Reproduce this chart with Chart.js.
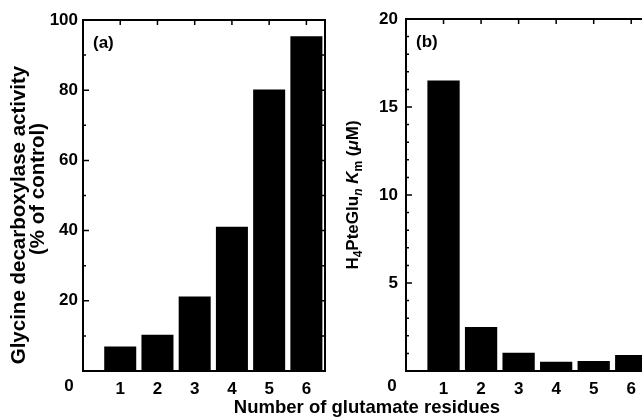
<!DOCTYPE html>
<html>
<head>
<meta charset="utf-8">
<script src="https://cdn.jsdelivr.net/npm/chart.js@4"></script>
<style>
  html, body { margin: 0; padding: 0; background: #fff; }
  #wrap { position: relative; width: 642px; height: 417px; overflow: hidden; }
  #wrap canvas { position: absolute; left: 0; top: 0; }
</style>
</head>
<body>
<div id="wrap">
  <canvas id="chartA" width="642" height="417"></canvas>
  <canvas id="chartB" width="660" height="417"></canvas>
</div>
<script>
// data
const residues = [1, 2, 3, 4, 5, 6];
const activity = [7.0, 10.3, 21.2, 41.1, 80.2, 95.4];   // % of control
const kmValues = [16.5, 2.5, 1.04, 0.53, 0.57, 0.91];   // µM
const activityLabels = [20, 40, 60, 80, 100];
const kmLabels = [5, 10, 15, 20];
const activityTitle = ['Glycine decarboxylase activity', '(% of control)'];

const FONT = '"Liberation Sans", Arial, sans-serif';

// box, inward ticks, corner "0" and panel letter
const framePlugin = {
  id: 'frame',
  afterDatasetsDraw(chart, args, opts) {
    const { ctx, chartArea: a, scales: { x, y } } = chart;
    ctx.save();
    ctx.strokeStyle = '#000';
    ctx.lineWidth = 2;
    ctx.strokeRect(a.left, a.top, a.right - a.left, a.bottom - a.top);
    ctx.lineWidth = 1.5;
    ctx.beginPath();
    y.ticks.forEach(t => {
      const py = y.getPixelForValue(t.value);
      const len = t.value % opts.major === 0 ? 6 : 3;
      ctx.moveTo(a.left, py); ctx.lineTo(a.left + len, py);
      ctx.moveTo(a.right, py); ctx.lineTo(a.right - len, py);
    });
    x.ticks.forEach(t => {
      const px = x.getPixelForValue(t.value);
      ctx.moveTo(px, a.top); ctx.lineTo(px, a.top + 5);
    });
    ctx.stroke();
    ctx.fillStyle = '#000';
    ctx.font = 'bold 17px ' + FONT;
    ctx.textAlign = 'center';
    ctx.textBaseline = 'middle';
    ctx.fillText('0', a.left - 14, a.bottom + 15);
    ctx.textAlign = 'left';
    ctx.fillText(opts.label, a.left + 10, a.top + 23);
    if (opts.draw) opts.draw(chart);
    ctx.restore();
  }
};

function xScale() {
  return {
    type: 'linear', min: 0, max: 6.5, offset: false,
    grid: { display: false, drawTicks: false, offset: false }, border: { display: false },
    ticks: {
      color: '#000', padding: 8, autoSkip: false, maxRotation: 0,
      font: { family: FONT, size: 17, weight: 'bold' }
    },
    afterBuildTicks: s => { s.ticks = residues.map(v => ({ value: v })); },
    afterFit: s => { s.height = 46; }
  };
}

function barData(values) {
  return {
    datasets: [{
      data: residues.map((r, i) => ({ x: r, y: values[i] })),
      backgroundColor: '#000', borderWidth: 0,
      categoryPercentage: 1, barPercentage: 0.86
    }]
  };
}

function drawActivityTitle(chart) {
  const ctx = chart.ctx;
  ctx.save();
  ctx.font = 'bold 20.5px ' + FONT;
  ctx.textAlign = 'center';
  ctx.textBaseline = 'middle';
  // the two lines are not centred on each other in the figure
  [[19, 215], [38, 189]].forEach(([cx, cy], i) => {
    ctx.save();
    ctx.translate(cx, cy);
    ctx.rotate(-Math.PI / 2);
    ctx.fillText(activityTitle[i], 0, 0);
    ctx.restore();
  });
  ctx.font = 'bold 18.5px ' + FONT;
  ctx.fillText('Number of glutamate residues', 367, 408);
  ctx.restore();
}

new Chart(document.getElementById('chartA'), {
  type: 'bar',
  data: barData(activity),
  options: {
    responsive: false, animation: false,
    layout: { padding: { top: 20, right: 317, left: 0, bottom: 0 } },
    plugins: {
      legend: { display: false }, tooltip: { enabled: false },
      frame: { label: '(a)', major: 20, draw: drawActivityTitle }
    },
    scales: {
      x: xScale(),
      y: {
        min: 0, max: 100,
        grid: { display: false, drawTicks: false }, border: { display: false },
        ticks: {
          stepSize: 10, color: '#000', padding: 5, autoSkip: false,
          font: { family: FONT, size: 17, weight: 'bold' },
          callback: v => activityLabels.includes(v) ? String(v) : ''
        },
        afterFit: s => { s.width = 83; }
      }
    }
  },
  plugins: [framePlugin]
});

// y title with sub/italic parts for panel (b)
const kmTitle = [
  { t: 'H' }, { t: '4', sub: true }, { t: 'PteGlu' }, { t: 'n', sub: true, it: true },
  { t: ' ' }, { t: 'K', it: true }, { t: 'm', sub: true }, { t: ' (' },
  { t: 'μ', it: true }, { t: 'M)' }
];

function drawKmTitle(chart) {
  const ctx = chart.ctx;
  const fontOf = p => (p.it ? 'italic ' : '') + 'bold ' + (p.sub ? 12 : 17) + 'px ' + FONT;
  let total = 0;
  kmTitle.forEach(p => { ctx.font = fontOf(p); total += ctx.measureText(p.t).width; });
  const a = chart.chartArea;
  ctx.save();
  ctx.translate(352, (a.top + a.bottom) / 2);
  ctx.rotate(-Math.PI / 2);
  ctx.textAlign = 'left';
  ctx.textBaseline = 'alphabetic';
  let cx = -total / 2;
  kmTitle.forEach(p => {
    ctx.font = fontOf(p);
    ctx.fillText(p.t, cx, p.sub ? 10 : 6);
    cx += ctx.measureText(p.t).width;
  });
  ctx.restore();
}

new Chart(document.getElementById('chartB'), {
  type: 'bar',
  data: barData(kmValues),
  options: {
    responsive: false, animation: false,
    layout: { padding: { top: 19, right: 10, left: 366, bottom: 0 } },
    plugins: {
      legend: { display: false }, tooltip: { enabled: false },
      frame: { label: '(b)', major: 5, draw: drawKmTitle }
    },
    scales: {
      x: xScale(),
      y: {
        min: 0, max: 20,
        grid: { display: false, drawTicks: false }, border: { display: false },
        ticks: {
          stepSize: 1, color: '#000', padding: 8, autoSkip: false,
          font: { family: FONT, size: 17, weight: 'bold' },
          callback: v => kmLabels.includes(v) ? String(v) : ''
        },
        afterFit: s => { s.width = 40; }
      }
    }
  },
  plugins: [framePlugin]
});
</script>
</body>
</html>
